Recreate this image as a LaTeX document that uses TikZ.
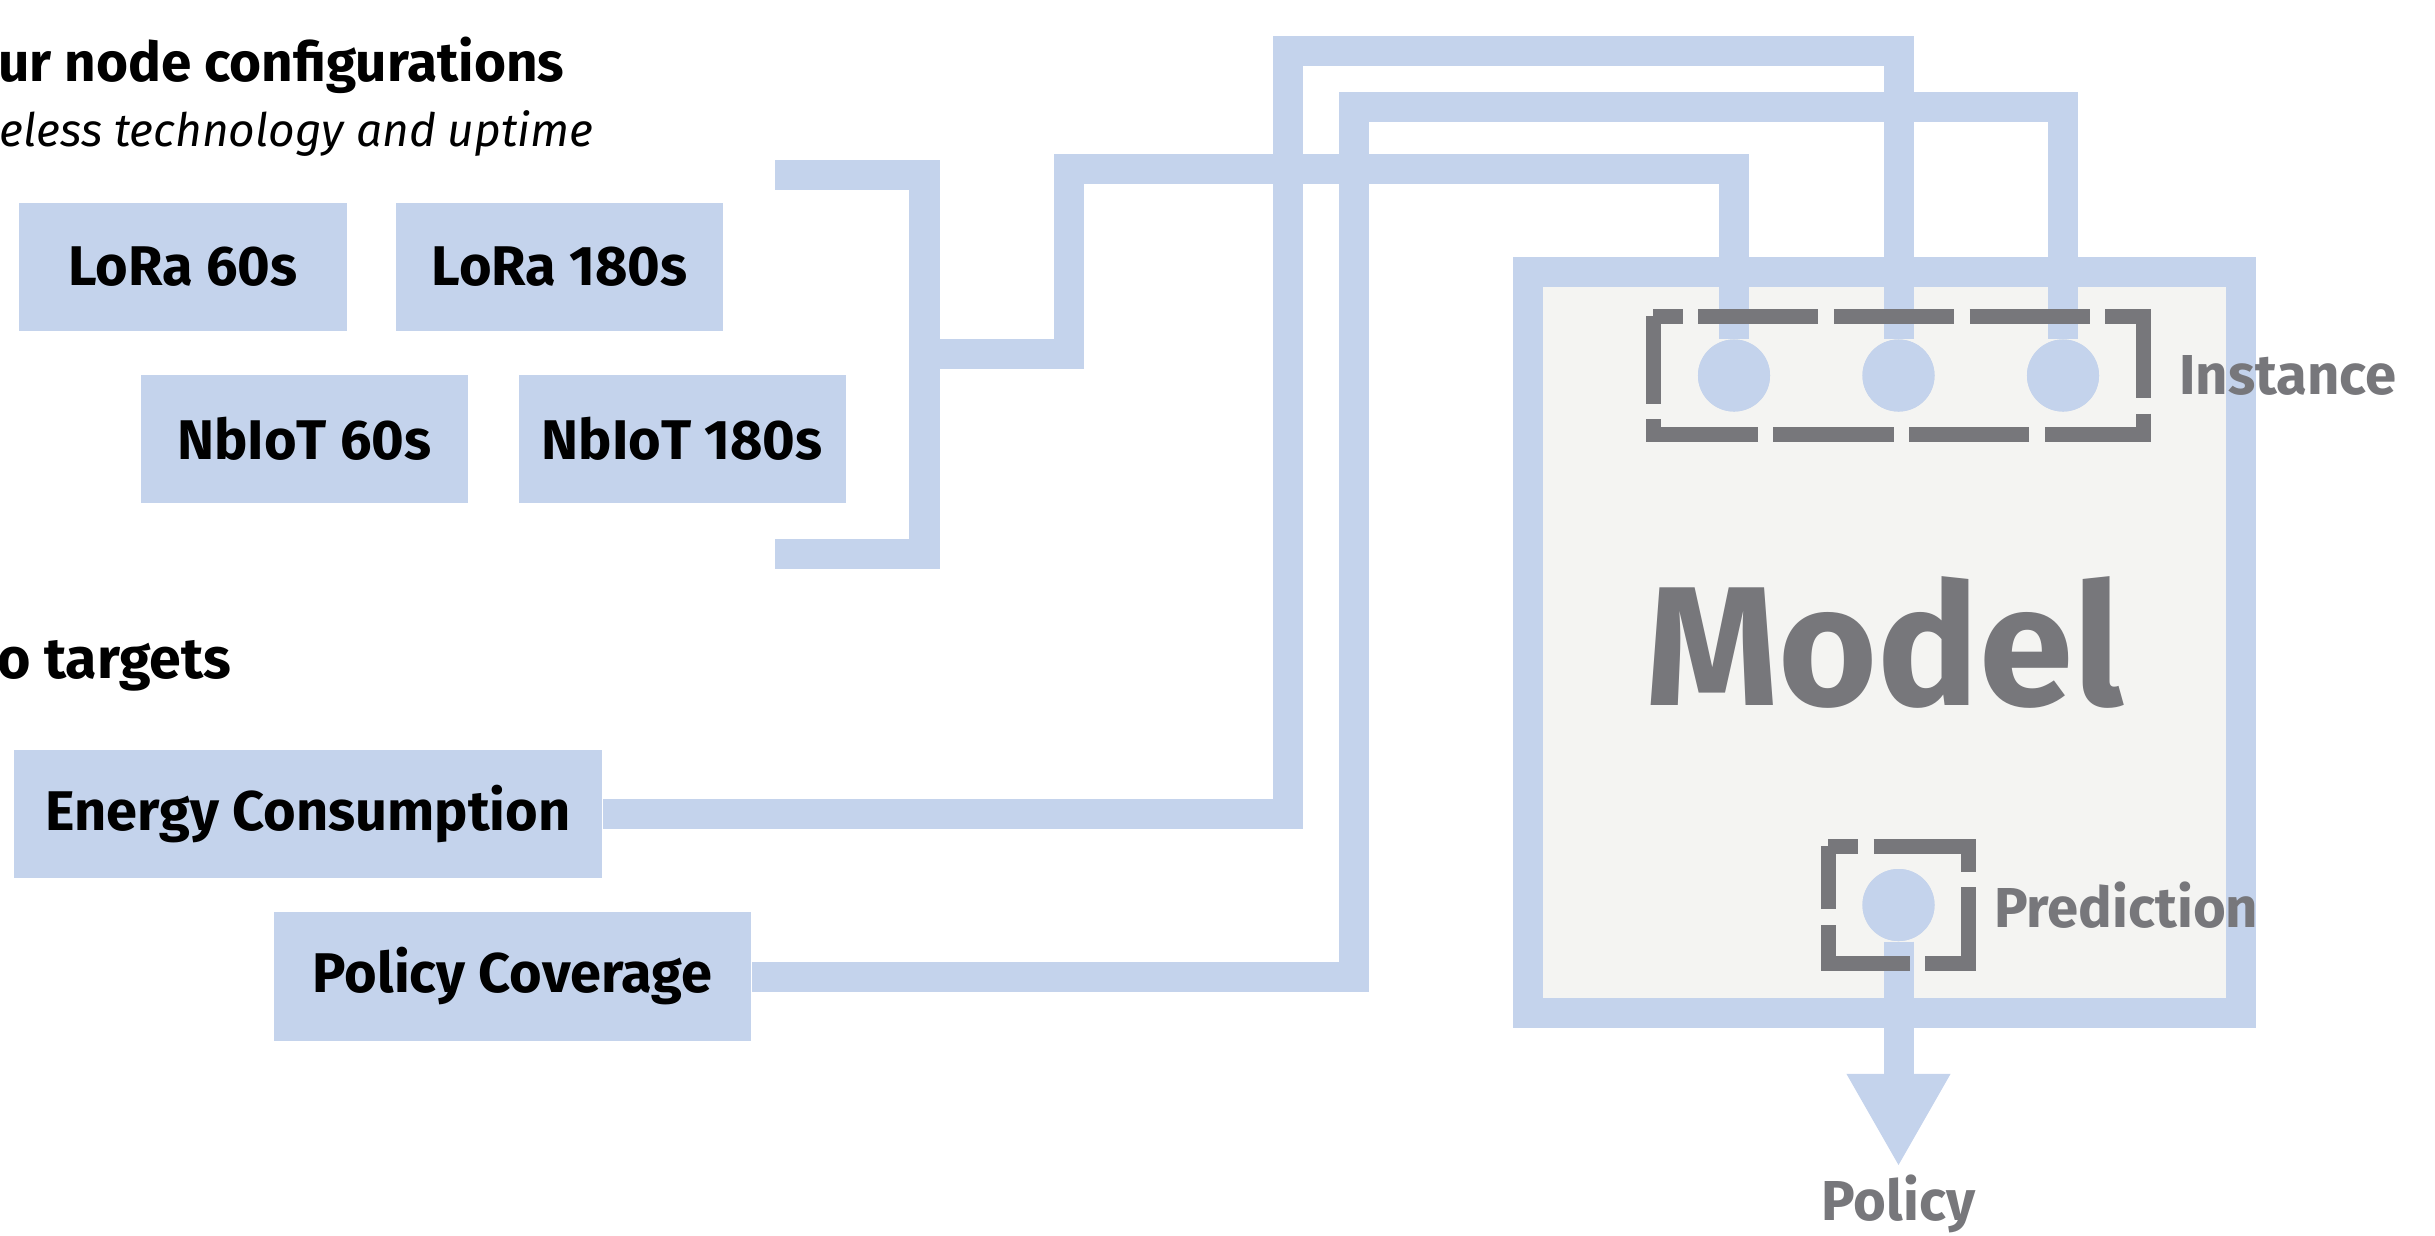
\documentclass[tikz,border=0pt]{standalone}
\usepackage{fontspec}
\setmainfont{Fira Sans}
\usetikzlibrary{arrows.meta,positioning,calc}
\definecolor{cfgblue}{HTML}{C4D3EC}
\definecolor{mdlgrey}{HTML}{77777B}
\definecolor{mdlfill}{HTML}{F4F4F2}
\tikzset{
  cfgbox/.style  = {fill=cfgblue, inner sep=0pt, minimum width=3.27cm, minimum height=1.28cm,
                    font=\fontsize{15.9}{18}\selectfont\bfseries},
  wire/.style    = {draw=cfgblue, line width=0.3cm},
  flow/.style    = {wire, -{Triangle[width=1.04cm, length=0.91cm, line width=0pt]}},
  port/.style    = {circle, fill=cfgblue, minimum size=0.72cm, inner sep=0pt},
  frame/.style   = {inner sep=0pt, outer sep=0pt},
  group/.style   = {draw=mdlgrey, line width=0.15cm, dash pattern=on 1.2cm off 0.155cm, dash phase=0.905cm},
  glabel/.style  = {text=mdlgrey, inner sep=0pt, font=\fontsize{16}{19}\selectfont\bfseries},
  heading/.style = {inner sep=0pt, anchor=base east, font=\fontsize{15.6}{19}\selectfont\bfseries},
}
\begin{document}
\begin{tikzpicture}[x=0.01cm, y=-0.01cm]
  \useasboundingbox (0,0) rectangle (2435,1235);
  % inputs
  \node[heading] (cfgtitle) at (565,81) {ur node configurations};
  \node[heading, font=\fontsize{13.1}{16}\selectfont\itshape] (cfgsub) at (594,146) {eless technology and uptime};
  \node[cfgbox] (lora60) at (183,267) {LoRa 60s};
  \node[cfgbox, right=0.48cm of lora60] (lora180) {LoRa 180s};
  \node[cfgbox] (nbiot60) at (304.5,439) {NbIoT 60s};
  \node[cfgbox, right=0.49cm of nbiot60] (nbiot180) {NbIoT 180s};
  \node[heading, font=\fontsize{16.3}{19}\selectfont\bfseries] (tgttitle) at (232,678) {o targets};
  \node[cfgbox, minimum width=5.88cm] (energy) at (308,814) {Energy Consumption};
  \node[cfgbox, minimum width=4.77cm] (cover) at (512.5,976.5) {Policy Coverage};
  % model
  \node[draw=cfgblue, line width=0.3cm, fill=mdlfill, minimum width=7.125cm, minimum height=7.41cm,
        text=mdlgrey, font=\fontsize{48.3}{52}\selectfont\bfseries] (model) at (1884.5,642.5) {Model};
  \node[frame, minimum width=4.9cm, minimum height=1.18cm] (inst) at (1898.5,375.5) {};
  \node[frame, minimum width=1.4cm, minimum height=1.17cm] (pbox) at (1898.5,905) {};
  \coordinate (in2pos) at (inst.center);
  % bracket round the configurations
  \coordinate (bt) at (775,174.5);
  \coordinate (bb) at (775,553.5);
  \coordinate (join) at (924.5,353.5);
  \draw[wire] (bt) -- ++(149.5,0) |- (bb);
  \node[port] (in1) at ($(in2pos)+(-164.5,0)$) {};
  \node[port] (in2) at (in2pos) {};
  \node[port] (in3) at ($(in2pos)+(164.5,0)$) {};
  \node[port] (pred) at (pbox.center) {};
  \draw[wire] (join) -| (1069,168.5) -| (in1);
  \draw[wire] (energy.east) -| (1287.5,51) -| (in2);
  \draw[wire] (cover.east) -| (1354,107) -| (in3);
  \coordinate (tip) at (1898.5,1165);
  \draw[flow] (pred) -- (tip);
  \draw[group] (inst.north west) -- (inst.north east) -- (inst.south east) -- (inst.south west) -- cycle;
  \draw[group] (pbox.north west) -- (pbox.north east) -- (pbox.south east) -- (pbox.south west) -- cycle;
  \node[port] at (in1) {};
  \node[port] at (in2) {};
  \node[port] at (in3) {};
  \node[port] at (pred) {};
  \node[glabel, right=0.35cm of inst] (instlbl) {Instance};
  \node[glabel, right=0.25cm of pbox] (predlbl) {Prediction};
  \node[glabel, below=0.09cm of tip] (policy) {Policy};
\end{tikzpicture}
\end{document}
